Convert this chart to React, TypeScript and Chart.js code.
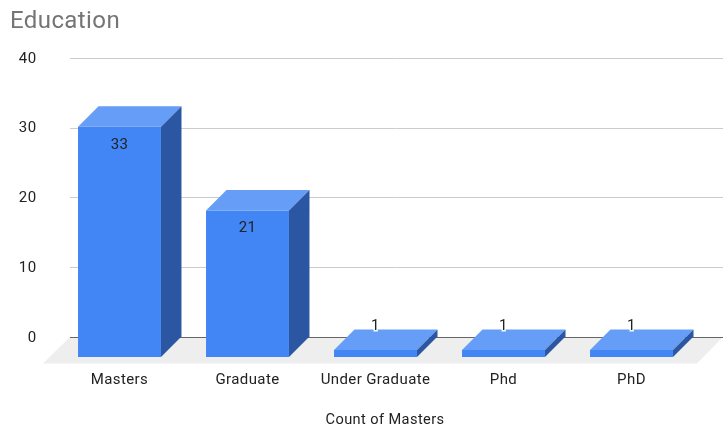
import { useEffect, useRef } from "react";
import { Chart, registerables } from "chart.js";

Chart.register(...registerables);

const categories = ["Masters", "Graduate", "Under Graduate", "Phd", "PhD"];
const counts = [33, 21, 1, 1, 1];
const yTicks = [0, 10, 20, 30, 40];
const floorDrop = 2.87; // value units between the back wall's zero and the front edge of the floor

const FONT = "Roboto, Arial, sans-serif";
const DEPTH = 20.5;

const extrusion = {
  id: "extrusion",
  beforeDraw(chart: any) {
    chart.ctx.letterSpacing = "0.4px";
  },
  beforeDatasetsDraw(chart: any) {
    const { ctx, scales } = chart;
    const y = scales.y;
    const zero = y.getPixelForValue(0);
    ctx.save();
    yTicks.filter((t) => t !== 0).forEach((t) => {
      const py = Math.round(y.getPixelForValue(t)) + 0.5;
      ctx.strokeStyle = "#cccccc";
      ctx.lineWidth = 1;
      ctx.beginPath();
      ctx.moveTo(70, py);
      ctx.lineTo(723, py);
      ctx.stroke();
    });
    ctx.fillStyle = "#eeeeee";
    ctx.beginPath();
    ctx.moveTo(70, zero);
    ctx.lineTo(723, zero);
    ctx.lineTo(697, zero + 26.5);
    ctx.lineTo(43, zero + 26.5);
    ctx.closePath();
    ctx.fill();
    ctx.strokeStyle = "#666666";
    ctx.lineWidth = 1;
    ctx.beginPath();
    ctx.moveTo(70, Math.round(zero) + 0.5);
    ctx.lineTo(723, Math.round(zero) + 0.5);
    ctx.stroke();
    ctx.restore();
  },
  afterDatasetsDraw(chart: any) {
    const { ctx } = chart;
    const bars = chart.getDatasetMeta(0).data;
    ctx.save();
    bars.forEach((bar: any) => {
      const left = bar.x - bar.width / 2;
      const right = bar.x + bar.width / 2;
      const top = Math.min(bar.y, bar.base);
      const bottom = Math.max(bar.y, bar.base);
      ctx.fillStyle = "#669df6";
      ctx.beginPath();
      ctx.moveTo(left, top);
      ctx.lineTo(left + DEPTH, top - DEPTH);
      ctx.lineTo(right + DEPTH, top - DEPTH);
      ctx.lineTo(right, top);
      ctx.closePath();
      ctx.fill();
      ctx.fillStyle = "#2a56a2";
      ctx.beginPath();
      ctx.moveTo(right, top);
      ctx.lineTo(right + DEPTH, top - DEPTH);
      ctx.lineTo(right + DEPTH, bottom - DEPTH);
      ctx.lineTo(right, bottom);
      ctx.closePath();
      ctx.fill();
    });
    // Value labels: inside the tall bars, above the flat ones with a white halo
    ctx.font = `15px ${FONT}`;
    ctx.textAlign = "center";
    ctx.textBaseline = "middle";
    bars.forEach((bar: any, i: number) => {
      const text = String(counts[i]);
      const top = Math.min(bar.y, bar.base);
      const inside = Math.abs(bar.base - bar.y) > 40;
      const ly = inside ? top + 18 : top - 24;
      if (!inside) {
        ctx.strokeStyle = "rgba(255,255,255,0.9)";
        ctx.lineWidth = 3;
        ctx.strokeText(text, bar.x, ly);
      }
      ctx.fillStyle = "#222222";
      ctx.fillText(text, bar.x, ly);
    });
    // Axis caption, centred under the floor
    ctx.fillStyle = "#222222";
    ctx.font = `14.6px ${FONT}`;
    ctx.fillText("Count of Masters", 385, 420.5);
    ctx.restore();
  },
};

export default function App() {
  const canvasRef = useRef<HTMLCanvasElement>(null);

  useEffect(() => {
    const chart = new Chart(canvasRef.current!, {
      type: "bar",
      data: {
        labels: categories,
        datasets: [
          {
            label: "Count of Masters",
            data: counts.map((v) => [-floorDrop, v - floorDrop]),
            backgroundColor: "#4285f4",
            barPercentage: 0.648,
            categoryPercentage: 1,
          },
        ],
      } as any,
      options: {
        animation: false,
        responsive: false,
        layout: { padding: { left: 10, right: 27.5, top: 0, bottom: 0 } },
        plugins: {
          legend: { display: false },
          tooltip: { enabled: false },
          title: {
            display: true,
            text: "Education",
            align: "start",
            color: "#757575",
            font: { family: FONT, size: 24, weight: "normal" },
            padding: { top: 8, bottom: 21.2 },
          },
        },
        scales: {
          x: {
            grid: { display: false },
            border: { display: false },
            afterFit: (scale: any) => {
              scale.height = 73;
            },
            ticks: {
              color: "#222222",
              font: { family: FONT, size: 15 },
              padding: 6,
              autoSkip: false,
              maxRotation: 0,
            },
          },
          y: {
            min: -floorDrop,
            max: 40,
            grid: { display: false },
            border: { display: false },
            afterFit: (scale: any) => {
              scale.width = 45.5;
            },
            afterBuildTicks: (scale: any) => {
              scale.ticks = yTicks.map((value) => ({ value }));
            },
            ticks: {
              color: "#222222",
              font: { family: FONT, size: 15 },
              padding: 11,
              labelOffset: 1,
            },
          },
        },
      },
      plugins: [extrusion],
    } as any);
    return () => chart.destroy();
  }, []);

  return (
    <div style={{ position: "absolute", left: 0, top: 0, width: 723, height: 430 }}>
      <canvas ref={canvasRef} width={723} height={430} />
    </div>
  );
}
